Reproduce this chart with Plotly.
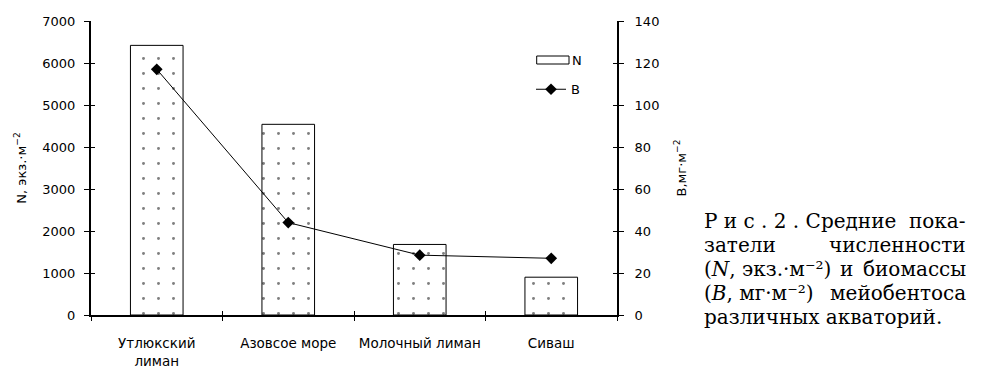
import plotly.graph_objects as go

category_labels = ["Утлюкский<br>лиман", "Азовсое море", "Молочный лиман", "Сиваш"]
N_values = [6420, 4540, 1680, 900]
B_values = [117, 44, 28.5, 27]
N_ticks = [0, 1000, 2000, 3000, 4000, 5000, 6000, 7000]
B_ticks = [0, 20, 40, 60, 80, 100, 120, 140]

FONT = "DejaVu Sans, Arial, sans-serif"
SERIF = "DejaVu Serif, Times New Roman, serif"

fig = go.Figure()

fig.add_trace(go.Bar(
    x=category_labels, y=N_values, name="N", width=0.4,
    marker=dict(color="white", line=dict(color="black", width=1),
                pattern=dict(shape=".", fgcolor="black", bgcolor="white", size=15, solidity=0.03)),
    showlegend=False, yaxis="y", xaxis="x",
))
fig.add_trace(go.Scatter(
    x=category_labels, y=B_values, name="B", yaxis="y2", xaxis="x",
    mode="lines+markers", line=dict(color="black", width=1),
    marker=dict(symbol="diamond", size=9, color="black"),
))
# dummy traces to carry the inner half of the crossing tick marks
fig.add_trace(go.Scatter(x=category_labels, y=N_values, xaxis="x2", yaxis="y3",
                         mode="markers", marker=dict(opacity=0), showlegend=False, hoverinfo="skip"))
fig.add_trace(go.Scatter(x=category_labels, y=B_values, xaxis="x2", yaxis="y4",
                         mode="markers", marker=dict(opacity=0), showlegend=False, hoverinfo="skip"))

# page body has an 8px margin, so the figure is placed 8px in from the window corner
OFF = 8
W, H = 984 - OFF, 367 - OFF
L, R, T, B = 91, 617, 21, 315  # plot area in window pixels

def px_x(px):
    return (px - L) / (R - L)

def px_y(py):
    return (B - py) / (B - T)

fig.update_layout(
    width=W, height=H,
    margin=dict(l=L - OFF, r=W - (R - OFF), t=T - OFF, b=H - (B - OFF), autoexpand=False),
    paper_bgcolor="white", plot_bgcolor="white",
    font=dict(family=FONT, size=13, color="black"),
    xaxis=dict(type="category", range=[-0.5, 3.5], tickson="boundaries",
               ticks="outside", ticklen=4, tickcolor="black", tickwidth=1,
               showline=True, linecolor="black", linewidth=1.5, showgrid=False,
               ticklabelstandoff=15, tickfont=dict(size=13.5), automargin=False),
    xaxis2=dict(type="category", range=[-0.5, 3.5], tickson="boundaries", overlaying="x",
                ticks="inside", ticklen=4, tickcolor="black", tickwidth=1,
                showticklabels=False, showline=False, showgrid=False, anchor="y"),
    yaxis=dict(range=[0, 7000], tickvals=N_ticks, ticks="outside", ticklen=5,
               tickcolor="black", tickwidth=1, showline=True, linecolor="black", linewidth=2,
               showgrid=False, zeroline=False, ticklabelstandoff=6, automargin=False,
               title=dict(text="N, экз.·м<sup>−2</sup>", font=dict(size=13), standoff=13)),
    yaxis2=dict(range=[0, 140], tickvals=B_ticks, overlaying="y", side="right", anchor="x",
                ticks="outside", ticklen=5, tickcolor="black", tickwidth=1,
                showline=True, linecolor="black", linewidth=2, showgrid=False, zeroline=False,
                ticklabelstandoff=8, automargin=False,
                title=dict(text="B,мг·м<sup>−2</sup>", font=dict(size=13), standoff=18)),
    yaxis3=dict(range=[0, 7000], tickvals=N_ticks, overlaying="y", side="left", anchor="x",
                ticks="inside", ticklen=4, tickcolor="black", tickwidth=1,
                showticklabels=False, showline=False, showgrid=False, zeroline=False),
    yaxis4=dict(range=[0, 140], tickvals=B_ticks, overlaying="y", side="right", anchor="x",
                ticks="inside", ticklen=4, tickcolor="black", tickwidth=1,
                showticklabels=False, showline=False, showgrid=False, zeroline=False),
    legend=dict(x=px_x(531), y=px_y(89.3), xanchor="left", yanchor="middle",
                bgcolor="rgba(0,0,0,0)", font=dict(size=13), itemwidth=30),
    showlegend=True,
)

# N legend item (wide box like the original)
fig.add_shape(type="rect", xref="paper", yref="paper",
              x0=px_x(536.7), x1=px_x(569), y0=px_y(64), y1=px_y(56),
              line=dict(color="black", width=1), fillcolor="white")
fig.add_annotation(xref="paper", yref="paper", x=px_x(570), y=px_y(60.5), text="N",
                   showarrow=False, xanchor="left", yanchor="middle", font=dict(size=13))

# Caption (justified: pieces anchored left / centre / right)
cap_font = dict(family=SERIF, size=20, color="black")
xl, xr = px_x(702), px_x(968)
lines = [
    (221, "Р и с . 2 . Средние", None, "пока-"),
    (245, "затели", None, "численности"),
    (269, "(<i>N</i>, экз.·м⁻²)", ("и", 846), "биомассы"),
    (293, "(<i>B</i>, мг·м⁻²)", None, "мейобентоса"),
    (317, "различных акваторий.", None, None),
]
for py, left, mid, right in lines:
    fig.add_annotation(xref="paper", yref="paper", x=xl, y=px_y(py), text=left,
                       showarrow=False, xanchor="left", yanchor="middle", font=cap_font)
    if mid:
        fig.add_annotation(xref="paper", yref="paper", x=px_x(mid[1]), y=px_y(py), text=mid[0],
                           showarrow=False, xanchor="center", yanchor="middle", font=cap_font)
    if right:
        fig.add_annotation(xref="paper", yref="paper", x=xr, y=px_y(py), text=right,
                           showarrow=False, xanchor="right", yanchor="middle", font=cap_font)

fig.write_html("out.html")
